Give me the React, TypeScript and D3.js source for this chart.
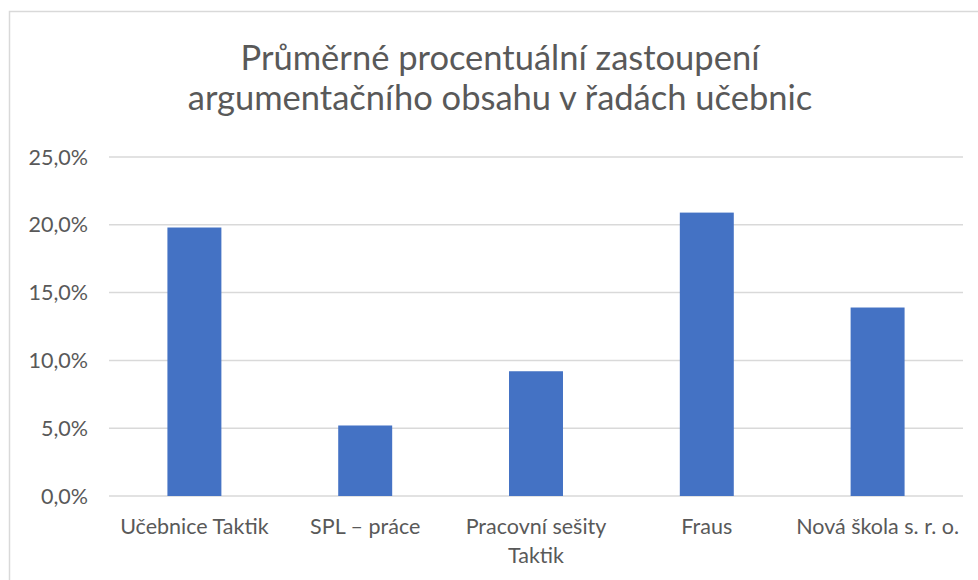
import React, { useEffect, useRef } from "react";
import * as d3 from "d3";

const categories = [
  ["Učebnice Taktik"],
  ["SPL – práce"],
  ["Pracovní sešity", "Taktik"],
  ["Fraus"],
  ["Nová škola s. r. o."],
];
const values = [0.198, 0.052, 0.092, 0.209, 0.139];
const yTicks = [0, 0.05, 0.1, 0.15, 0.2, 0.25];
const titleLines = [
  "Průměrné procentuální zastoupení",
  "argumentačního obsahu v řadách učebnic",
];

const FONT = "Lato, 'Open Sans', sans-serif";
const TEXT = "#595959";

const App = () => {
  const ref = useRef<SVGSVGElement>(null);

  useEffect(() => {
    const svg = d3.select(ref.current);
    svg.selectAll("*").remove();

    const width = 978;
    const height = 580;
    const margin = { top: 157, right: 15, bottom: 84, left: 109 };

    // chart frame
    svg
      .append("rect")
      .attr("x", 9.5)
      .attr("y", 11.5)
      .attr("width", 1000)
      .attr("height", 600)
      .attr("fill", "white")
      .attr("stroke", "#D9D9D9")
      .attr("stroke-width", 1.5);

    // title
    svg
      .append("g")
      .selectAll("text")
      .data(titleLines)
      .join("text")
      .attr("x", 500)
      .attr("y", (d, i) => 70 + i * 40)
      .attr("text-anchor", "middle")
      .attr("fill", TEXT)
      .attr("font-family", FONT)
      .attr("font-size", 34.5)
      .text((d) => d);

    const x = d3
      .scaleBand()
      .domain(categories.map((d) => d.join(" ")))
      .range([margin.left, width - margin.right])
      .paddingInner(0.684)
      .paddingOuter(0.342);

    const y = d3
      .scaleLinear()
      .domain([0, 0.25])
      .range([height - margin.bottom, margin.top]);

    const fmt = (v: number) => (v * 100).toFixed(1).replace(".", ",") + "%";

    // gridlines
    svg
      .append("g")
      .selectAll("line")
      .data(yTicks)
      .join("line")
      .attr("x1", margin.left)
      .attr("x2", width - margin.right)
      .attr("y1", (d) => y(d))
      .attr("y2", (d) => y(d))
      .attr("stroke", "#D9D9D9")
      .attr("stroke-width", 1.5);

    // y tick labels
    svg
      .append("g")
      .selectAll("text")
      .data(yTicks)
      .join("text")
      .attr("x", 88)
      .attr("y", (d) => y(d))
      .attr("dy", "0.35em")
      .attr("text-anchor", "end")
      .attr("fill", TEXT)
      .attr("font-family", FONT)
      .attr("font-size", 21.5)
      .text((d) => fmt(d));

    // bars
    svg
      .append("g")
      .selectAll("rect")
      .data(values)
      .join("rect")
      .attr("x", (d, i) => x(categories[i].join(" "))!)
      .attr("y", (d) => y(d))
      .attr("width", x.bandwidth())
      .attr("height", (d) => y(0) - y(d))
      .attr("fill", "#4472C4");

    // category labels
    const labels = svg
      .append("g")
      .selectAll("text")
      .data(categories)
      .join("text")
      .attr("x", (d) => x(d.join(" "))! + x.bandwidth() / 2)
      .attr("y", 534)
      .attr("text-anchor", "middle")
      .attr("fill", TEXT)
      .attr("font-family", FONT)
      .attr("font-size", 21.5);

    labels
      .selectAll("tspan")
      .data((d) => d)
      .join("tspan")
      .attr("x", function () {
        return (this.parentNode as SVGTextElement).getAttribute("x");
      })
      .attr("dy", (d, i) => (i === 0 ? 0 : 29))
      .text((d) => d);
  }, []);

  return (
    <svg
      ref={ref}
      width={978}
      height={580}
      style={{ position: "absolute", left: 0, top: 0, background: "white" }}
    ></svg>
  );
};

export default App;
